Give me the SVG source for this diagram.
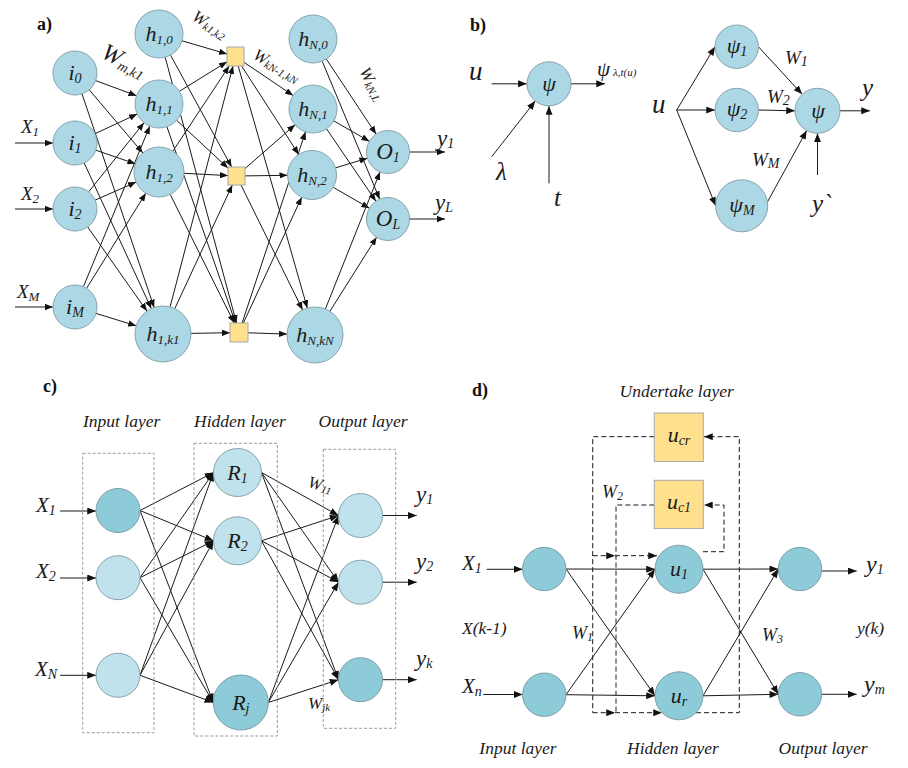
<svg xmlns="http://www.w3.org/2000/svg" width="908" height="768" viewBox="0 0 908 768">
<style>
.t{font-family:"Liberation Serif","Times New Roman",serif;font-style:italic;fill:#1a1a1a}
.pl{font-family:"Liberation Serif","Times New Roman",serif;font-weight:bold;font-size:18px;fill:#111}
.na{fill:#acd8e5;stroke:#86a3ad;stroke-width:1}
.nl{fill:#bfe2ec;stroke:#86a3ad;stroke-width:1}
.nd{fill:#8ecbd8;stroke:#7d9ea8;stroke-width:1}
.sq{fill:#ffe08c;stroke:#a8a8a8;stroke-width:1}
.c line,.c path{stroke:#1a1a1a;stroke-width:1;fill:none}
.a{marker-end:url(#ahs)}
.b{marker-end:url(#ah)}
.dash{stroke:#555;stroke-width:1.2;stroke-dasharray:5,3;fill:none}
.box{fill:none;stroke:#9a9a9a;stroke-width:1;stroke-dasharray:3,2}
.m{text-anchor:middle}
</style>
<defs>
<marker id="ah" viewBox="0 0 10 8" refX="10" refY="4" markerWidth="9" markerHeight="7" markerUnits="userSpaceOnUse" orient="auto"><path d="M0,0 L10,4 L0,8 z" fill="#111"/></marker>
<marker id="ahs" viewBox="0 0 10 8" refX="10" refY="4" markerWidth="8" markerHeight="6.4" markerUnits="userSpaceOnUse" orient="auto"><path d="M0,0 L10,4 L0,8 z" fill="#111"/></marker>
</defs>
<rect width="908" height="768" fill="#fff"/>

<!-- panel labels -->
<text class="pl" x="37" y="30">a)</text>
<text class="pl" x="470" y="31">b)</text>
<text class="pl" x="43" y="392">c)</text>
<text class="pl" x="472" y="396">d)</text>

<g id="connectors" class="c">
<!-- panel a -->
<g class="a">
<line x1="15" y1="143" x2="53" y2="143"/>
<line x1="15" y1="209" x2="53" y2="209"/>
<line x1="15" y1="307" x2="53" y2="307"/>
<line x1="95.6" y1="80.6" x2="136.5" y2="95.7"/>
<line x1="89.2" y1="89.8" x2="142.8" y2="152.9"/>
<line x1="82" y1="93.8" x2="154.1" y2="307.5"/>
<line x1="95" y1="133.7" x2="137.2" y2="114.1"/>
<line x1="95.8" y1="150.2" x2="135.4" y2="163.8"/>
<line x1="84.2" y1="163" x2="151.3" y2="308.6"/>
<line x1="88.7" y1="191.8" x2="144" y2="122.7"/>
<line x1="95.1" y1="200.1" x2="136.1" y2="182.1"/>
<line x1="87.7" y1="227" x2="146.9" y2="311.1"/>
<line x1="83.4" y1="286.7" x2="149.8" y2="126.2"/>
<line x1="86.6" y1="288.3" x2="145.8" y2="193.2"/>
<line x1="96" y1="313.4" x2="136.2" y2="325.8"/>
<line x1="182" y1="40.8" x2="227" y2="54"/>
<line x1="170.5" y1="55.1" x2="231.6" y2="167"/>
<line x1="165.2" y1="57.2" x2="236.5" y2="323"/>
<line x1="179.4" y1="91.3" x2="227" y2="61.8"/>
<line x1="176.6" y1="120.3" x2="228" y2="168.1"/>
<line x1="166.9" y1="126.7" x2="235.5" y2="323"/>
<line x1="172.8" y1="151.2" x2="229.2" y2="66"/>
<line x1="184" y1="173.3" x2="228" y2="175.6"/>
<line x1="170.2" y1="194.4" x2="234.2" y2="323"/>
<line x1="170.1" y1="306.9" x2="233" y2="66"/>
<line x1="174.8" y1="308.6" x2="232.3" y2="185"/>
<line x1="191" y1="333.4" x2="230" y2="332.7"/>
<line x1="244" y1="62.3" x2="293.1" y2="95.5"/>
<line x1="241.6" y1="66" x2="298.7" y2="154.4"/>
<line x1="238.2" y1="66" x2="307.3" y2="308.1"/>
<line x1="245" y1="168.6" x2="295" y2="124.8"/>
<line x1="245" y1="175.9" x2="287.5" y2="175.3"/>
<line x1="241" y1="185" x2="302.6" y2="309.9"/>
<line x1="242.1" y1="323" x2="305.5" y2="131.8"/>
<line x1="243.4" y1="323" x2="301.7" y2="197.2"/>
<line x1="248" y1="332.8" x2="287" y2="334.1"/>
<line x1="326.3" y1="59" x2="376.1" y2="134.1"/>
<line x1="322.2" y1="61.2" x2="379.7" y2="199.2"/>
<line x1="333.8" y1="120.9" x2="369.3" y2="141.3"/>
<line x1="326.5" y1="128.8" x2="375.9" y2="201.2"/>
<line x1="335.4" y1="167.9" x2="367.4" y2="158.2"/>
<line x1="333.2" y1="187.3" x2="369.4" y2="208.2"/>
<line x1="325.4" y1="309" x2="380" y2="172"/>
<line x1="329.9" y1="311.3" x2="376.6" y2="237.2"/>
<line x1="409.5" y1="152" x2="445" y2="152"/>
<line x1="409.5" y1="219" x2="445" y2="219"/>
</g>
<!-- panel b -->
<g class="b">
<line x1="491.7" y1="83.8" x2="526.8" y2="83.8"/>
<line x1="570.8" y1="83.8" x2="605" y2="83.8"/>
<line x1="491.7" y1="156.7" x2="535.2" y2="101.1"/>
<line x1="549" y1="183.3" x2="549" y2="106"/>
<line x1="676.7" y1="110" x2="715" y2="46.7"/>
<line x1="676.7" y1="110" x2="715" y2="110"/>
<line x1="676.7" y1="110" x2="715.7" y2="205.8"/>
<line x1="758.4" y1="46.7" x2="802.2" y2="94.3"/>
<line x1="758.4" y1="110" x2="795" y2="110.8"/>
<line x1="766.7" y1="203.3" x2="806.7" y2="130.5"/>
<line x1="840" y1="110.8" x2="870" y2="110.8"/>
<line x1="817.5" y1="175" x2="817.5" y2="133.3"/>
</g>
<!-- panel c -->
<g class="b">
<line x1="60" y1="511" x2="96" y2="511"/>
<line x1="60" y1="578" x2="96" y2="578"/>
<line x1="60" y1="675.3" x2="96" y2="675.3"/>
<line x1="140" y1="510.5" x2="213.5" y2="472.5"/>
<line x1="140" y1="510.5" x2="213.5" y2="540.8"/>
<line x1="140" y1="510.5" x2="213.3" y2="702.5"/>
<line x1="140" y1="577.7" x2="213.5" y2="472.5"/>
<line x1="140" y1="577.7" x2="213.5" y2="540.8"/>
<line x1="140" y1="577.7" x2="213.3" y2="702.5"/>
<line x1="140" y1="675.3" x2="213.5" y2="472.5"/>
<line x1="140" y1="675.3" x2="213.5" y2="540.8"/>
<line x1="140" y1="675.3" x2="213.3" y2="702.5"/>
<line x1="261.5" y1="472.5" x2="338.5" y2="515.5"/>
<line x1="261.5" y1="472.5" x2="338.5" y2="582.2"/>
<line x1="261.5" y1="472.5" x2="338.5" y2="679.7"/>
<line x1="261.5" y1="540.8" x2="338.5" y2="515.5"/>
<line x1="261.5" y1="540.8" x2="338.5" y2="582.2"/>
<line x1="261.5" y1="540.8" x2="338.5" y2="679.7"/>
<line x1="268.3" y1="702.5" x2="338.5" y2="515.5"/>
<line x1="268.3" y1="702.5" x2="338.5" y2="582.2"/>
<line x1="268.3" y1="702.5" x2="338.5" y2="679.7"/>
<line x1="382.5" y1="515.5" x2="416.7" y2="515.5"/>
<line x1="382.5" y1="582.2" x2="416.7" y2="582.2"/>
<line x1="382.5" y1="679.7" x2="416.7" y2="679.7"/>
</g>
<!-- panel d -->
<g class="b">
<line x1="486.7" y1="569.3" x2="522.7" y2="569.3"/>
<line x1="483.3" y1="694.5" x2="522.7" y2="694.5"/>
<line x1="566" y1="569" x2="655" y2="569.2"/>
<line x1="566" y1="569" x2="655" y2="695.8"/>
<line x1="566" y1="694.7" x2="655" y2="569.2"/>
<line x1="566" y1="694.7" x2="655" y2="695.8"/>
<line x1="703" y1="569.2" x2="778.3" y2="569"/>
<line x1="703" y1="569.2" x2="778.3" y2="694.3"/>
<line x1="703" y1="695.8" x2="778.3" y2="569"/>
<line x1="703" y1="695.8" x2="778.3" y2="694.3"/>
<line x1="821.7" y1="571" x2="856.7" y2="571"/>
<line x1="821.7" y1="694.3" x2="856.7" y2="694.3"/>
</g>
<g>
<path class="dash" d="M654.3,436.7 H592.7 V712.7"/>
<path class="dash" d="M654.3,505 H616 V712.7"/>
<path class="dash" d="M592.7,555.7 H615" marker-end="url(#ah)"/>
<path class="dash" d="M615,555.7 H657" marker-end="url(#ah)"/>
<path class="dash" d="M592.7,712.7 H615" marker-end="url(#ah)"/>
<path class="dash" d="M615,712.7 H662" marker-end="url(#ah)"/>
<path class="dash" d="M696,712.7 H739.3 V436.7 H704" marker-end="url(#ah)"/>
<path class="dash" d="M703,551.7 H724 V505 H704" marker-end="url(#ah)"/>
</g>
</g>

<!-- panel a nodes -->
<g id="a_i0"><circle class="na" cx="75" cy="73" r="22"/><text class="t m" x="75" y="80" font-size="22">i<tspan font-size="14" dy="3">0</tspan></text></g>
<g id="a_i1"><circle class="na" cx="75" cy="143" r="22"/><text class="t m" x="75" y="150" font-size="22">i<tspan font-size="14" dy="3">1</tspan></text></g>
<g id="a_i2"><circle class="na" cx="75" cy="209" r="22"/><text class="t m" x="75" y="216" font-size="22">i<tspan font-size="14" dy="3">2</tspan></text></g>
<g id="a_iM"><circle class="na" cx="75" cy="307" r="22"/><text class="t m" x="75" y="314" font-size="22">i<tspan font-size="14" dy="3">M</tspan></text></g>
<g id="a_h10"><circle class="na" cx="159" cy="34" r="24"/><text class="t m" x="159" y="41" font-size="22">h<tspan font-size="13" dy="3">1,0</tspan></text></g>
<g id="a_h11"><circle class="na" cx="159" cy="104" r="24"/><text class="t m" x="159" y="111" font-size="22">h<tspan font-size="13" dy="3">1,1</tspan></text></g>
<g id="a_h12"><circle class="na" cx="159" cy="172" r="25"/><text class="t m" x="159" y="179" font-size="22">h<tspan font-size="13" dy="3">1,2</tspan></text></g>
<g id="a_h1k"><circle class="na" cx="163" cy="334" r="28"/><text class="t m" x="163" y="341" font-size="22">h<tspan font-size="13" dy="3">1,k1</tspan></text></g>
<g id="a_s1"><rect class="sq" x="227" y="47" width="17" height="19"/></g>
<g id="a_s2"><rect class="sq" x="228" y="167" width="17" height="18"/></g>
<g id="a_s3"><rect class="sq" x="230" y="323" width="18" height="19"/></g>
<g id="a_hN0"><circle class="na" cx="313" cy="39" r="24"/><text class="t m" x="313" y="46" font-size="22">h<tspan font-size="13" dy="3">N,0</tspan></text></g>
<g id="a_hN1"><circle class="na" cx="313" cy="109" r="24"/><text class="t m" x="313" y="116" font-size="22">h<tspan font-size="13" dy="3">N,1</tspan></text></g>
<g id="a_hN2"><circle class="na" cx="312" cy="175" r="24.5"/><text class="t m" x="312" y="182" font-size="22">h<tspan font-size="13" dy="3">N,2</tspan></text></g>
<g id="a_hNk"><circle class="na" cx="315" cy="335" r="28"/><text class="t m" x="315" y="342" font-size="22">h<tspan font-size="13" dy="3">N,kN</tspan></text></g>
<g id="a_O1"><circle class="na" cx="388" cy="152" r="21.5"/><text class="t m" x="388" y="159" font-size="23">O<tspan font-size="14" dy="3">1</tspan></text></g>
<g id="a_OL"><circle class="na" cx="388" cy="219" r="21.5"/><text class="t m" x="388" y="226" font-size="23">O<tspan font-size="14" dy="3">L</tspan></text></g>
<g id="a_labels">
<text class="t" x="21" y="133" font-size="19">X<tspan font-size="13" dy="3">1</tspan></text>
<text class="t" x="21" y="200" font-size="19">X<tspan font-size="13" dy="3">2</tspan></text>
<text class="t" x="17" y="298" font-size="19">X<tspan font-size="13" dy="3">M</tspan></text>
<text class="t" x="437" y="146" font-size="23">y<tspan font-size="14" dy="2">1</tspan></text>
<text class="t" x="435" y="210" font-size="23">y<tspan font-size="14" dy="2">L</tspan></text>
<text class="t" font-size="24" transform="translate(100,57) rotate(27)">W<tspan font-size="14" dy="3">m,k1</tspan></text>
<text class="t" font-size="17" transform="translate(191,19) rotate(33)">W<tspan font-size="11" dy="2">k1,k2</tspan></text>
<text class="t" font-size="17" transform="translate(252,58) rotate(30)">W<tspan font-size="11" dy="2">kN-1,kN</tspan></text>
<text class="t" font-size="17" transform="translate(359,71) rotate(62)">W<tspan font-size="11" dy="2">kN,L</tspan></text>
</g>

<!-- panel b nodes -->
<g id="b_psi"><circle class="na" cx="549" cy="83.8" r="22"/><text class="t m" x="549" y="91" font-size="22">ψ</text></g>
<g id="b_psi1"><circle class="na" cx="736.7" cy="46.7" r="21.7"/><text class="t m" x="737" y="53" font-size="22">ψ<tspan font-size="14" dy="3">1</tspan></text></g>
<g id="b_psi2"><circle class="na" cx="736.7" cy="110" r="21.7"/><text class="t m" x="737" y="116" font-size="22">ψ<tspan font-size="14" dy="3">2</tspan></text></g>
<g id="b_psiM"><circle class="na" cx="741.7" cy="205.8" r="26"/><text class="t m" x="742" y="212" font-size="22">ψ<tspan font-size="14" dy="3">M</tspan></text></g>
<g id="b_psiout"><circle class="na" cx="817.5" cy="110.8" r="22.5"/><text class="t m" x="818" y="118" font-size="22">ψ</text></g>
<g id="b_labels">
<text class="t" x="469" y="80" font-size="27">u</text>
<text class="t" x="597" y="76" font-size="21">ψ<tspan font-size="11" dx="3">λ,t(u)</tspan></text>
<text class="t" x="496" y="180" font-size="25">λ</text>
<text class="t" x="554" y="206" font-size="25">t</text>
<text class="t" x="652" y="113" font-size="27">u</text>
<text class="t" x="785" y="64" font-size="19">W<tspan font-size="14" dy="2">1</tspan></text>
<text class="t" x="767" y="103" font-size="19">W<tspan font-size="14" dy="2">2</tspan></text>
<text class="t" x="752" y="166" font-size="19">W<tspan font-size="14" dy="2">M</tspan></text>
<text class="t" x="862" y="96" font-size="25">y</text>
<text class="t" x="812" y="212" font-size="25">y`</text>
</g>

<!-- panel c -->
<g id="c_boxes">
<rect class="box" x="82.7" y="453.3" width="71.3" height="279.4"/>
<rect class="box" x="194" y="443.3" width="83.3" height="292.7"/>
<rect class="box" x="323.3" y="449.3" width="72.4" height="279"/>
</g>
<g id="c_in1"><circle class="nd" cx="118" cy="510.5" r="22"/></g>
<g id="c_in2"><circle class="nl" cx="118" cy="577.7" r="22"/></g>
<g id="c_in3"><circle class="nl" cx="118" cy="675.3" r="22"/></g>
<g id="c_R1"><circle class="nl" cx="237.5" cy="472.5" r="24"/><text class="t m" x="237.5" y="480" font-size="22">R<tspan font-size="14" dy="3">1</tspan></text></g>
<g id="c_R2"><circle class="nl" cx="237.5" cy="540.8" r="24"/><text class="t m" x="237.5" y="548" font-size="22">R<tspan font-size="14" dy="3">2</tspan></text></g>
<g id="c_Rj"><circle class="nd" cx="240.8" cy="702.5" r="27.5"/><text class="t m" x="240.8" y="710" font-size="22">R<tspan font-size="14" dy="3">j</tspan></text></g>
<g id="c_out1"><circle class="nl" cx="360.5" cy="515.5" r="22"/></g>
<g id="c_out2"><circle class="nl" cx="360.5" cy="582.2" r="22"/></g>
<g id="c_outk"><circle class="nd" cx="360.5" cy="679.7" r="22"/></g>
<g id="c_labels">
<text class="t m" x="121.7" y="427" font-size="17.5">Input layer</text>
<text class="t m" x="240" y="427" font-size="17.5">Hidden layer</text>
<text class="t m" x="363" y="427" font-size="17.5">Output layer</text>
<text class="t" x="36" y="512" font-size="21">X<tspan font-size="14" dy="3">1</tspan></text>
<text class="t" x="36" y="578" font-size="21">X<tspan font-size="14" dy="3">2</tspan></text>
<text class="t" x="35" y="676" font-size="21">X<tspan font-size="14" dy="3">N</tspan></text>
<text class="t" x="416" y="502" font-size="23">y<tspan font-size="14" dy="2">1</tspan></text>
<text class="t" x="416" y="569" font-size="23">y<tspan font-size="14" dy="2">2</tspan></text>
<text class="t" x="416" y="666" font-size="23">y<tspan font-size="14" dy="2">k</tspan></text>
<text class="t" font-size="17" transform="translate(307,487) rotate(15)">W<tspan font-size="11" dy="2">11</tspan></text>
<text class="t" x="308" y="709" font-size="17">W<tspan font-size="11" dy="2">jk</tspan></text>
</g>

<!-- panel d -->
<g id="d_ucr"><rect class="sq" x="654.3" y="413" width="49" height="48.5"/><text class="t m" x="679" y="442" font-size="22">u<tspan font-size="14" dy="3">cr</tspan></text></g>
<g id="d_uc1"><rect class="sq" x="654.3" y="480.3" width="49" height="48.3"/><text class="t m" x="679" y="509" font-size="22">u<tspan font-size="14" dy="3">c1</tspan></text></g>
<g id="d_in1"><circle class="nd" cx="544.3" cy="569" r="21.7"/></g>
<g id="d_in2"><circle class="nd" cx="544.3" cy="694.7" r="21.7"/></g>
<g id="d_u1"><circle class="nd" cx="679" cy="569.2" r="24"/><text class="t m" x="679" y="576" font-size="22">u<tspan font-size="14" dy="3">1</tspan></text></g>
<g id="d_ur"><circle class="nd" cx="679" cy="695.8" r="24"/><text class="t m" x="679" y="703" font-size="22">u<tspan font-size="14" dy="3">r</tspan></text></g>
<g id="d_out1"><circle class="nd" cx="800" cy="569" r="21.7"/></g>
<g id="d_out2"><circle class="nd" cx="800" cy="694.3" r="21.7"/></g>
<g id="d_labels">
<text class="t m" x="676.7" y="397" font-size="17.5">Undertake layer</text>
<text class="t" x="462" y="570" font-size="21">X<tspan font-size="14" dy="3">1</tspan></text>
<text class="t" x="462" y="693" font-size="21">X<tspan font-size="14" dy="3">n</tspan></text>
<text class="t" x="462" y="634" font-size="17.5">X(k-1)</text>
<text class="t" x="857" y="634" font-size="17.5">y(k)</text>
<text class="t" x="572" y="639" font-size="18">W<tspan font-size="12" dy="2">1</tspan></text>
<text class="t" x="762" y="641" font-size="18">W<tspan font-size="12" dy="2">3</tspan></text>
<text class="t" x="602" y="498" font-size="18">W<tspan font-size="12" dy="2">2</tspan></text>
<text class="t" x="866" y="572" font-size="24">y<tspan font-size="14" dy="2">1</tspan></text>
<text class="t" x="864" y="692" font-size="24">y<tspan font-size="14" dy="2">m</tspan></text>
<text class="t m" x="518" y="754" font-size="17.5">Input layer</text>
<text class="t m" x="673" y="754" font-size="17.5">Hidden layer</text>
<text class="t m" x="823" y="754" font-size="17.5">Output layer</text>
</g>
</svg>
